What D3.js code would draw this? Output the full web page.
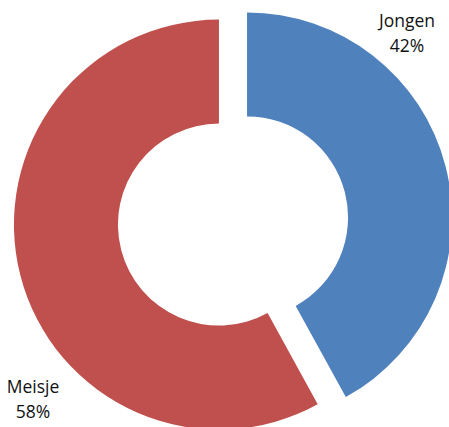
<!DOCTYPE html>
<html>
<head>
<meta charset="utf-8">
<script src="https://cdn.jsdelivr.net/npm/d3@7"></script>
<style>
  body { margin: 0; background: #fff; }
  svg text { font-family: "Open Sans", sans-serif; font-size: 17.5px; fill: #111; }
</style>
</head>
<body>
<div id="chart"></div>
<script>
// Data
var categories = ["Jongen", "Meisje"];
var percents = [42, 58];
var colors = ["#4F81BD", "#C0504D"];

var svgWidth = 449;
var svgHeight = 427;

// chart centre and sizes
var cx = 233;
var cy = 221;
var outerR = 205;
var innerR = 101;
var explode = 14.5;

var svg = d3.select("#chart")
  .append("svg")
  .attr("width", svgWidth)
  .attr("height", svgHeight);

var chartGroup = svg.append("g")
  .attr("transform", `translate(${cx}, ${cy})`);

var pie = d3.pie()
  .sort(null)
  .value(function(d) { return d; });

var arc = d3.arc()
  .innerRadius(innerR)
  .outerRadius(outerR);

var slices = pie(percents);

// offset each slice along its middle angle
function shift(d) {
  var mid = (d.startAngle + d.endAngle) / 2;
  return [Math.sin(mid) * explode, -Math.cos(mid) * explode];
}

chartGroup.selectAll("path")
  .data(slices)
  .enter()
  .append("path")
  .attr("d", arc)
  .attr("fill", function(d, i) { return colors[i]; })
  .attr("transform", function(d) {
    var s = shift(d);
    return `translate(${s[0]}, ${s[1]})`;
  });

// Labels (baseline of first line)
var labelPos = [[407, 27], [33, 393]];

var labels = svg.selectAll(".lbl")
  .data(slices)
  .enter()
  .append("text")
  .attr("class", "lbl")
  .attr("text-anchor", "middle")
  .attr("x", function(d, i) { return labelPos[i][0]; })
  .attr("y", function(d, i) { return labelPos[i][1]; });

labels.append("tspan")
  .attr("x", function(d, i) { return labelPos[i][0]; })
  .text(function(d, i) { return categories[i]; });

labels.append("tspan")
  .attr("x", function(d, i) { return labelPos[i][0]; })
  .attr("dy", "25px")
  .text(function(d, i) { return percents[i] + "%"; });
</script>
</body>
</html>
